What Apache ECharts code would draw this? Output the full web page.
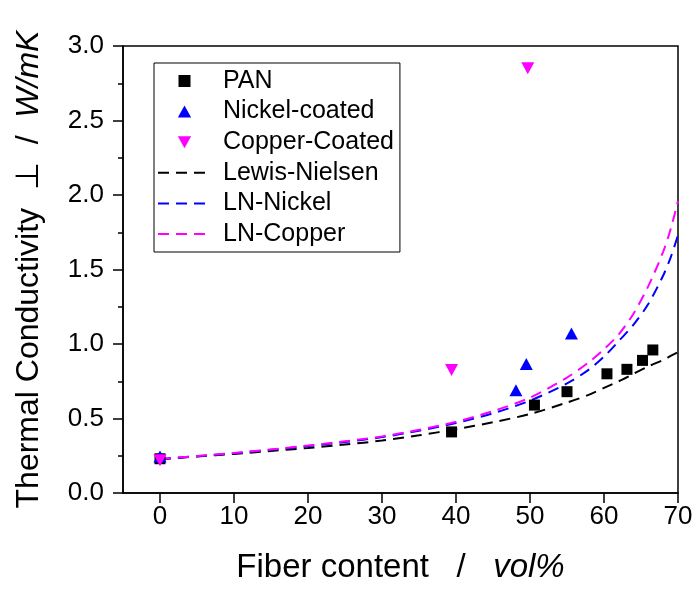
<!DOCTYPE html>
<html>
<head>
<meta charset="utf-8">
<script src="https://cdn.jsdelivr.net/npm/echarts@6/dist/echarts.min.js"></script>
<style>
  html, body { margin: 0; padding: 0; background: #fff; }
  #chart { width: 695px; height: 590px; }
</style>
</head>
<body>
<div id="chart"></div>
<script>
'use strict';

// measured points
var panX = [0, 39.4, 50.6, 55.0, 60.4, 63.1, 65.2, 66.6],
		panY = [0.23, 0.41, 0.59, 0.68, 0.80, 0.83, 0.89, 0.96];
var nickelX = [0, 48.1, 49.5, 55.6],
		nickelY = [0.245, 0.69, 0.865, 1.07];
var copperX = [0, 39.4, 49.7],
		copperY = [0.22, 0.825, 2.85];

// model curves (Lewis-Nielsen)
var curveX   = [0, 5, 10, 15, 20, 25, 30, 35, 40, 45, 50, 55, 58, 60, 62, 64, 66, 68, 69, 70],
		lnY      = [0.225, 0.245, 0.262, 0.282, 0.302, 0.325, 0.352, 0.387, 0.428, 0.475, 0.53, 0.607, 0.66, 0.705, 0.75, 0.80, 0.85, 0.893, 0.92, 0.945],
		lnNickelY = [0.228, 0.247, 0.267, 0.29, 0.315, 0.342, 0.375, 0.418, 0.47, 0.535, 0.62, 0.735, 0.83, 0.915, 1.02, 1.13, 1.27, 1.46, 1.58, 1.73],
		lnCopperY = [0.228, 0.248, 0.268, 0.292, 0.318, 0.347, 0.38, 0.424, 0.478, 0.55, 0.64, 0.775, 0.88, 0.965, 1.065, 1.205, 1.39, 1.62, 1.77, 1.96];

var xTicks = [0, 10, 20, 30, 40, 50, 60, 70];

var FONT = '"Liberation Sans", Arial, sans-serif';

var SQUARE = 'path://M0 0H10V10H0Z',
		TRI_UP = 'path://M5 0L10 9H0Z',
		TRI_DOWN = 'path://M0 0H10L5 9Z';

function pairs(xs, ys) {
	return xs.map(function (x, i) { return [x, ys[i]]; });
}

var chart = echarts.init(document.getElementById('chart'), null, {renderer: 'canvas'});

var dash = [11, 7];
var hideDot = {opacity: 0};

var option = {
	animation: false,
	backgroundColor: '#fff',
	grid: {
		left: 123, right: 17, top: 46, bottom: 97,
		show: true,
		borderColor: '#000',
		borderWidth: 1.5,
		backgroundColor: 'transparent',
		outerBoundsMode: 'none'
	},
	legend: {
		orient: 'vertical',
		left: 154,
		top: 63,
		padding: [5, 6, 5, 3],
		itemWidth: 53,
		itemHeight: 12,
		itemGap: 4.6,
		symbolKeepAspect: true,
		borderColor: '#000',
		borderWidth: 1,
		textStyle: {
			fontFamily: FONT,
			fontSize: 25,
			color: '#000',
			lineHeight: 26,
			padding: [0, 0, 0, 7]
		},
		data: [
			{name: 'PAN', icon: SQUARE},
			{name: 'Nickel-coated', icon: TRI_UP},
			{name: 'Copper-Coated', icon: TRI_DOWN},
			{name: 'Lewis-Nielsen', itemStyle: hideDot},
			{name: 'LN-Nickel', itemStyle: hideDot},
			{name: 'LN-Copper', itemStyle: hideDot}
		]
	},
	xAxis: {
		type: 'value',
		min: -5,
		max: 70,
		name: '{a|Fiber content   /   }{b|vol%}',
		nameLocation: 'middle',
		nameGap: 58,
		nameTextStyle: {
			fontFamily: FONT,
			fontSize: 33,
			color: '#000',
			rich: {
				a: {fontFamily: FONT, fontSize: 33, color: '#000'},
				b: {fontFamily: FONT, fontSize: 33, color: '#000', fontStyle: 'italic'}
			}
		},
		axisLine: {onZero: false, lineStyle: {color: '#000', width: 1.5}},
		axisTick: {show: true, length: 10, lineStyle: {color: '#000', width: 1.5}, customValues: xTicks},
		axisLabel: {
			customValues: xTicks,
			margin: 11,
			fontFamily: FONT,
			fontSize: 26,
			color: '#000'
		},
		splitLine: {show: false}
	},
	yAxis: {
		type: 'value',
		min: 0,
		max: 3,
		interval: 0.5,
		name: '{a|Thermal Conductivity  ⊥  /  }{b|W/mK}',
		nameLocation: 'middle',
		nameRotate: 90,
		nameGap: 78,
		nameTextStyle: {
			fontFamily: FONT,
			fontSize: 32,
			color: '#000',
			rich: {
				a: {fontFamily: FONT, fontSize: 32, color: '#000'},
				b: {fontFamily: FONT, fontSize: 32, color: '#000', fontStyle: 'italic'}
			}
		},
		axisLine: {show: true, onZero: false, lineStyle: {color: '#000', width: 1.5}},
		axisTick: {show: true, length: 10, lineStyle: {color: '#000', width: 1.5}},
		minorTick: {show: true, splitNumber: 2, length: 5, lineStyle: {color: '#000', width: 1.5}},
		axisLabel: {
			margin: 19,
			fontFamily: FONT,
			fontSize: 26,
			color: '#000',
			formatter: function (v) { return v.toFixed(1); }
		},
		splitLine: {show: false}
	},
	series: [
		{
			name: 'PAN',
			type: 'scatter',
			symbol: SQUARE,
			symbolSize: 11,
			itemStyle: {color: '#000', opacity: 1},
			data: pairs(panX, panY),
			z: 3
		},
		{
			name: 'Nickel-coated',
			type: 'scatter',
			symbol: TRI_UP,
			symbolSize: [13, 12],
			itemStyle: {color: '#0000ff', opacity: 1},
			data: pairs(nickelX, nickelY),
			z: 4
		},
		{
			name: 'Copper-Coated',
			type: 'scatter',
			symbol: TRI_DOWN,
			symbolSize: [13, 12],
			itemStyle: {color: '#ff00ff', opacity: 1},
			data: pairs(copperX, copperY),
			z: 5
		},
		{
			name: 'Lewis-Nielsen',
			type: 'line',
			symbol: 'none',
			smooth: 0.3,
			lineStyle: {color: '#000', width: 2, type: dash},
			itemStyle: {color: '#000'},
			data: pairs(curveX, lnY),
			z: 2
		},
		{
			name: 'LN-Nickel',
			type: 'line',
			symbol: 'none',
			smooth: 0.3,
			lineStyle: {color: '#0000ff', width: 2, type: dash},
			itemStyle: {color: '#0000ff'},
			data: pairs(curveX, lnNickelY),
			z: 2
		},
		{
			name: 'LN-Copper',
			type: 'line',
			symbol: 'none',
			smooth: 0.3,
			lineStyle: {color: '#ff00ff', width: 2, type: dash},
			itemStyle: {color: '#ff00ff'},
			data: pairs(curveX, lnCopperY),
			z: 2
		}
	]
};

chart.setOption(option);
</script>
</body>
</html>
